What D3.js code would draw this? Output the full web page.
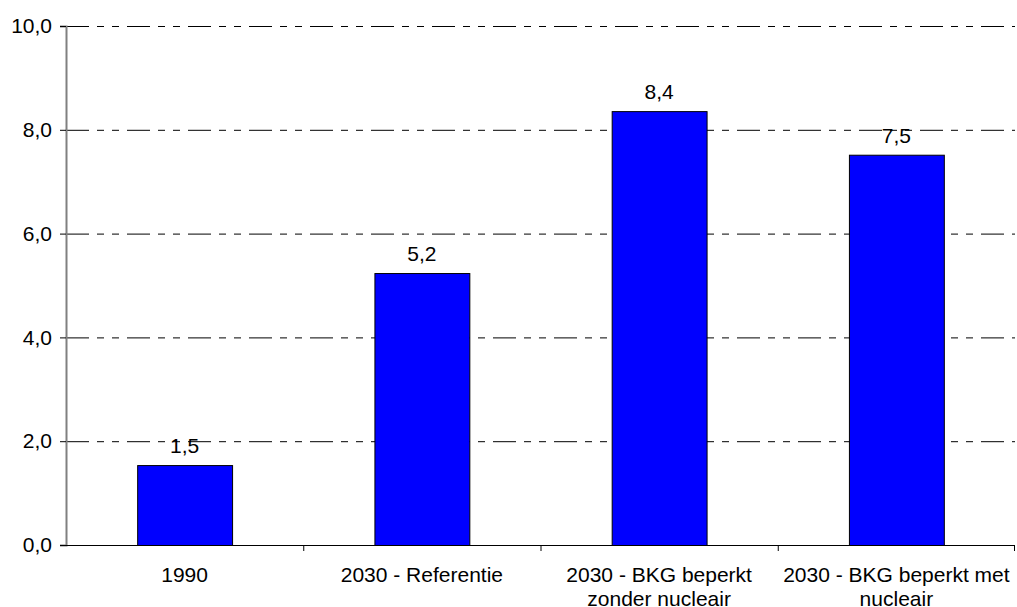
<!DOCTYPE html>
<html>
<head>
<meta charset="utf-8">
<script src="https://cdn.jsdelivr.net/npm/d3@7"></script>
<style>
  body { margin: 0; background: #fff; }
  svg text { font-family: "Liberation Sans", Arial, sans-serif; font-size: 21px; fill: #000; }
</style>
</head>
<body>
<svg id="chart"></svg>
<script>
var categories = [["1990"], ["2030 - Referentie"], ["2030 - BKG beperkt", "zonder nucleair"], ["2030 - BKG beperkt met", "nucleair"]];
var values = [1.54, 5.24, 8.36, 7.52];
var yTicks = [0, 2, 4, 6, 8, 10];

var width = 1017, height = 607;
var margin = {top: 26, left: 66, right: 2, bottom: 62};
var chartWidth = width - margin.left - margin.right;
var chartHeight = height - margin.top - margin.bottom;

var svg = d3.select('#chart')
    .attr("width", width)
    .attr("height", height);

var chartArea = svg.append('g')
    .attr("transform", `translate(${margin.left},${margin.top})`);

var xScale = d3.scaleBand()
    .domain(d3.range(categories.length))
    .range([0, chartWidth])
    .paddingInner(0.6)
    .paddingOuter(0.3);

var bandScale = d3.scaleBand()
    .domain(d3.range(categories.length))
    .range([0, chartWidth]);

var yScale = d3.scaleLinear()
    .domain([0, 10])
    .range([chartHeight, 0]);

var fmt = function (v) { return d3.format(".1f")(v).replace(".", ","); };

// gridlines
chartArea.append('g').selectAll('line')
    .data(yTicks.filter(function (d) { return d > 0; }))
    .enter().append('line')
    .attr('x1', 0)
    .attr('x2', chartWidth)
    .attr('y1', function (d) { return yScale(d) + 0.5; })
    .attr('y2', function (d) { return yScale(d) + 0.5; })
    .attr('stroke', '#000')
    .attr('stroke-width', 1)
    .attr('stroke-dasharray', '23,8,7,8,7,8');

// bars
chartArea.append('g').selectAll('rect')
    .data(values)
    .enter().append('rect')
    .attr('x', function (d, i) { return xScale(i) + 0.5; })
    .attr('y', function (d) { return yScale(d) + 0.5; })
    .attr('width', xScale.bandwidth())
    .attr('height', function (d) { return chartHeight - yScale(d); })
    .attr('fill', '#0000ff')
    .attr('stroke', '#000')
    .attr('stroke-width', 1);

// value labels
chartArea.append('g').selectAll('text')
    .data(values)
    .enter().append('text')
    .attr('x', function (d, i) { return xScale(i) + xScale.bandwidth() / 2; })
    .attr('y', function (d) { return yScale(d) - 12; })
    .attr('text-anchor', 'middle')
    .text(fmt);

// y axis
var yAxis = chartArea.append('g')
    .call(d3.axisLeft(yScale).tickValues(yTicks).tickFormat(fmt).tickSize(6).tickPadding(8));
yAxis.select('.domain').attr('stroke', '#808080').attr('stroke-width', 2);
yAxis.selectAll('.tick line').attr('stroke', '#000');
yAxis.selectAll('text').style('font-size', '21px');

// x axis
var xAxis = chartArea.append('g')
    .attr('transform', `translate(0,${chartHeight})`);
xAxis.append('line')
    .attr('x1', 0).attr('x2', chartWidth)
    .attr('y1', 0.5).attr('y2', 0.5)
    .attr('stroke', '#000');
xAxis.selectAll('.xtick')
    .data(d3.range(1, categories.length + 1))
    .enter().append('line')
    .attr('x1', function (d) { return d < categories.length ? bandScale(d) + 0.5 : chartWidth - 0.5; })
    .attr('x2', function (d) { return d < categories.length ? bandScale(d) + 0.5 : chartWidth - 0.5; })
    .attr('y1', 0).attr('y2', 6)
    .attr('stroke', '#000');

var xLabels = xAxis.selectAll('.xlabel')
    .data(categories)
    .enter().append('text')
    .attr('text-anchor', 'middle')
    .attr('transform', function (d, i) { return `translate(${bandScale(i) + bandScale.bandwidth() / 2},0)`; });
xLabels.selectAll('tspan')
    .data(function (d) { return d; })
    .enter().append('tspan')
    .attr('x', 0)
    .attr('y', function (d, j) { return 37 + j * 24; })
    .text(function (d) { return d; });
</script>
</body>
</html>
